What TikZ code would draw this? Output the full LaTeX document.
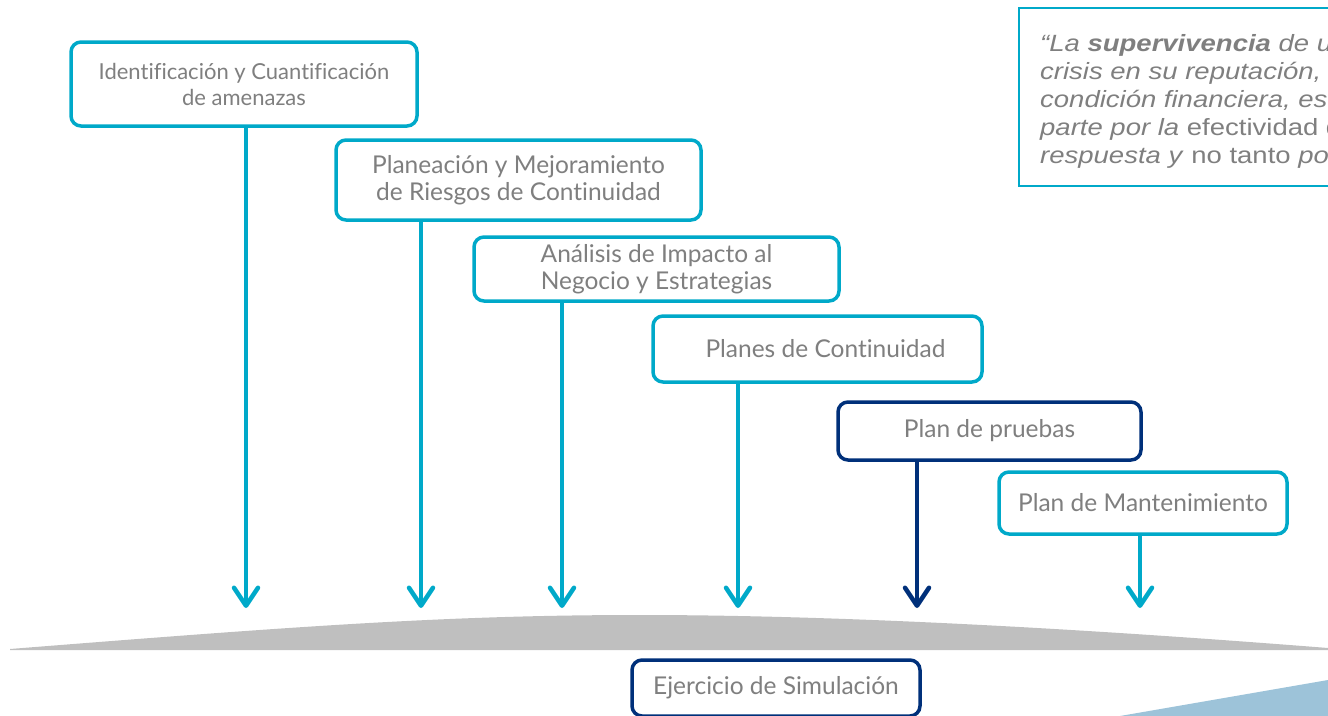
\documentclass[tikz,border=0pt]{standalone}
\usepackage{fontspec}
\setmainfont[Ligatures={NoCommon}]{Lato}
\newfontfamily\quotefont[FakeStretch=1.17]{Liberation Sans}
\usetikzlibrary{arrows.meta,calc}
\definecolor{tealc}{HTML}{00A9C9}
\definecolor{navyc}{HTML}{00307A}
\definecolor{txtc}{HTML}{7F7F7F}
\definecolor{groundc}{HTML}{BFBFBF}
\definecolor{lbluec}{HTML}{9DC3D9}
\tikzset{
  stepbox/.style={draw=tealc, line width=3.5pt, rounded corners=10pt, fill=white,
    text=txtc, align=center, inner sep=0pt, font=\fontsize{24.5}{27}\selectfont},
  smallbox/.style={stepbox, font=\fontsize{22}{26}\selectfont},
  navybox/.style={stepbox, draw=navyc},
  arr/.style={draw=tealc, line width=4.5pt, -{Straight Barb[length=18pt,width=24pt,round]}},
  navyarr/.style={arr, draw=navyc},
  qline/.style={anchor=base west, inner sep=0pt, text=txtc, font=\quotefont\fontsize{23.5}{28}\selectfont},
}
\begin{document}
\begin{tikzpicture}[x=1pt,y=-1pt]
\useasboundingbox (0,0) rectangle (1328,715);
\clip (0,0) rectangle (1328,715);
% ground
\fill[groundc] (10,649) .. controls (300,626) and (450,615) .. (640,615)
  .. controls (850,615) and (1100,630) .. (1328,648) -- (1328,650) -- (10,650) -- cycle;
\fill[lbluec] (1120,716) -- (1328,680) -- (1328,716) -- cycle;
% boxes
\node[smallbox, minimum width=346pt, minimum height=84pt] (b1) at (244,84) {Identificación y Cuantificación\\de amenazas};
\node[stepbox, minimum width=365pt, minimum height=80pt] (b2) at (518.5,180) {Planeación y Mejoramiento\\de Riesgos de Continuidad};
\node[stepbox, minimum width=365pt, minimum height=64pt] (b3) at (656.5,269) {Análisis de Impacto al\\Negocio y Estrategias};
\node[stepbox, minimum width=329pt, minimum height=66pt] (b4) at (817.5,349) {\hspace*{16pt}Planes de Continuidad};
\node[navybox, minimum width=303pt, minimum height=58pt] (b5) at (989.5,431) {Plan de pruebas};
\node[stepbox, minimum width=288pt, minimum height=62pt] (b6) at (1143,503) {Plan de Mantenimiento};
\node[navybox, minimum width=288pt, minimum height=56pt] (b7) at (776,688) {Ejercicio de Simulación};
% arrow end points
\coordinate (e1) at (246,608);
\coordinate (e2) at (421,608);
\coordinate (e3) at (562,608);
\coordinate (e4) at (738,608);
\coordinate (e5) at (917,608);
\coordinate (e6) at (1140,608);
\draw[arr] (b1.south -| e1) -- (e1);
\draw[arr] (b2.south -| e2) -- (e2);
\draw[arr] (b3.south -| e3) -- (e3);
\draw[arr] (b4.south -| e4) -- (e4);
\draw[navyarr] (b5.south -| e5) -- (e5);
\draw[arr] (b6.south -| e6) -- (e6);
% quote box
\draw[tealc, line width=1.5pt] (1019,8) rectangle (1345,186);
\node[qline] (q1) at (1040,51) {\itshape “La \textbf{supervivencia} de una};
\node[qline] (q2) at (1040,79) {\itshape crisis en su reputación, o};
\node[qline] (q3) at (1040,107) {\itshape condición financiera, está};
\node[qline] (q4) at (1040,135) {\textit{parte por la} efectividad de};
\node[qline] (q5) at (1040,163) {\textit{respuesta y} no tanto \textit{por}};
\end{tikzpicture}
\end{document}
